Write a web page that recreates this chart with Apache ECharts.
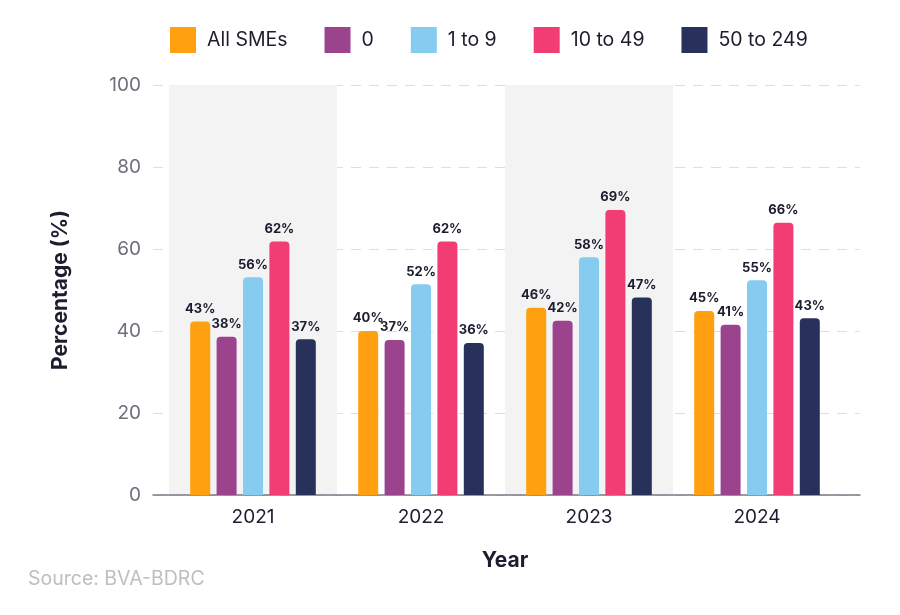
<!DOCTYPE html>
<html>
<head>
<meta charset="utf-8">
<script src="https://cdn.jsdelivr.net/npm/echarts@6/dist/echarts.min.js"></script>
<style>
  html, body { margin: 0; padding: 0; background: #fff; }
  #main { width: 900px; height: 615px; }
</style>
</head>
<body>
<div id="main"></div>
<script>
// data
const years = ['2021', '2022', '2023', '2024'];
const seriesNames = ['All SMEs', '0', '1 to 9', '10 to 49', '50 to 249'];
const colors = ['#ffa010', '#9c438e', '#85ccf0', '#f23c74', '#27315a'];
// bar heights as drawn
const allSMEs = [42.3, 40.0, 45.7, 44.9];
const zero = [38.6, 37.8, 42.5, 41.5];
const oneTo9 = [53.1, 51.4, 58.0, 52.4];
const tenTo49 = [61.8, 61.8, 69.5, 66.4];
const fiftyTo249 = [38.0, 37.1, 48.2, 43.1];
// printed labels
const allSMEsLbl = ['43%', '40%', '46%', '45%'];
const zeroLbl = ['38%', '37%', '42%', '41%'];
const oneTo9Lbl = ['56%', '52%', '58%', '55%'];
const tenTo49Lbl = ['62%', '62%', '69%', '66%'];
const fiftyTo249Lbl = ['37%', '36%', '47%', '43%'];
const yTicks = [0, 20, 40, 60, 80, 100];

const values = [allSMEs, zero, oneTo9, tenTo49, fiftyTo249];
const labels = [allSMEsLbl, zeroLbl, oneTo9Lbl, tenTo49Lbl, fiftyTo249Lbl];

const font = 'Inter, "Noto Sans", sans-serif';
const dark = '#1c1d2e';

let chart = echarts.init(document.getElementById('main'));

let series = seriesNames.map((name, i) => ({
    name: name,
    type: 'bar',
    xAxisIndex: 1,
    yAxisIndex: 1,
    barWidth: 20,
    barGap: '32%',
    data: values[i],
    itemStyle: {color: colors[i], borderRadius: [4, 4, 0, 0]},
    label: {
        show: true,
        position: 'top',
        distance: 6,
        fontFamily: font,
        fontWeight: 'bold',
        fontSize: 13,
        color: dark,
        formatter: (p) => labels[i][p.dataIndex]
    }
}));

let option = {
    animation: false,
    color: colors,
    textStyle: {fontFamily: font},
    legend: {
        top: 27,
        left: 170,
        padding: 0,
        itemWidth: 26,
        itemHeight: 26,
        itemGap: 37,
        icon: 'rect',
        textStyle: {fontFamily: font, fontSize: 19.5, color: dark, padding: [0, 0, 0, 6]},
        data: seriesNames
    },
    grid: [
        {left: 153, right: 40, top: 85, bottom: 120},
        {left: 169, right: 59, top: 85, bottom: 120}
    ],
    xAxis: [{
        gridIndex: 0,
        type: 'value',
        min: 0,
        max: 1,
        axisLine: {show: true, lineStyle: {color: '#7a7a86', width: 1.5}},
        axisTick: {show: false},
        axisLabel: {show: false},
        splitLine: {show: false}
    }, {
        gridIndex: 1,
        type: 'category',
        data: years,
        axisLine: {show: false},
        axisTick: {show: false},
        axisLabel: {fontFamily: font, fontSize: 19, color: dark, margin: 13},
        splitArea: {show: true, areaStyle: {color: ['#f3f3f3', 'rgba(255,255,255,0)']}},
        name: 'Year',
        nameLocation: 'middle',
        nameGap: 55,
        nameTextStyle: {fontFamily: font, fontSize: 21, fontWeight: 'bold', color: dark}
    }],
    yAxis: [{
        gridIndex: 0,
        type: 'value',
        min: yTicks[0],
        max: yTicks[yTicks.length - 1],
        interval: 20,
        axisLine: {show: false},
        axisTick: {show: false},
        axisLabel: {fontFamily: font, fontSize: 19, color: '#6e6e7c', margin: 12},
        splitLine: {show: true, lineStyle: {color: '#dedede', type: [10, 8], width: 1}},
        name: 'Percentage (%)',
        nameLocation: 'middle',
        nameGap: 82,
        nameTextStyle: {fontFamily: font, fontSize: 21, fontWeight: 'bold', color: dark}
    }, {
        gridIndex: 1,
        type: 'value',
        min: 0,
        max: 100,
        show: false
    }],
    graphic: [{
        type: 'text',
        x: 28,
        y: 579,
        style: {
            text: 'Source: BVA-BDRC',
            fontFamily: font,
            fontSize: 19.5,
            fill: '#c3bcc0',
            verticalAlign: 'middle'
        }
    }],
    series: series
};

chart.setOption(option);
</script>
</body>
</html>
